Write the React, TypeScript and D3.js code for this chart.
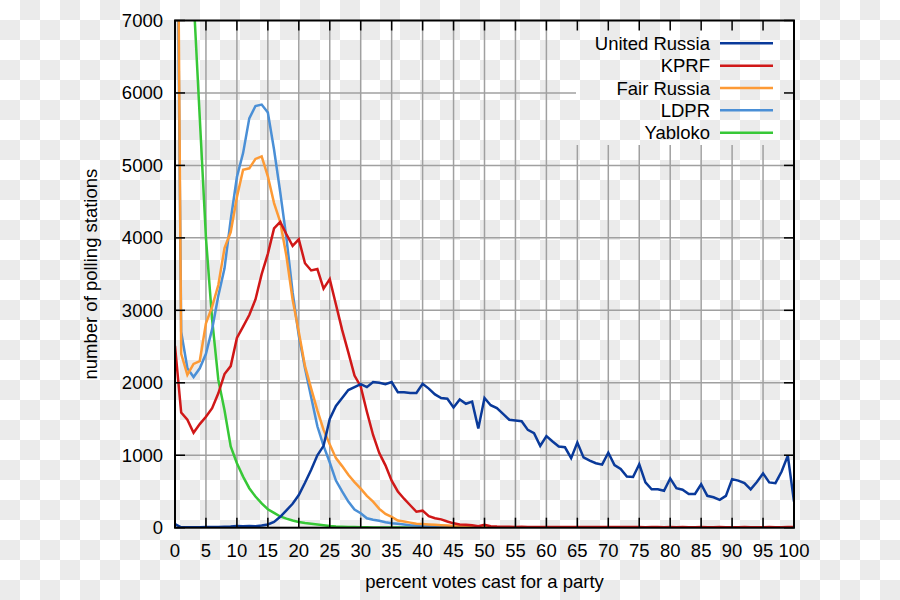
import React from "react";
import * as d3 from "d3";

const percents: number[] = d3.range(0, 101);

const unitedRussia: number[] = [
  50, 5, 5, 5, 5, 8, 10, 10, 12, 15,
  25, 20, 25, 20, 30, 45, 80, 150, 240, 330,
  450, 620, 800, 1000, 1130, 1500, 1680, 1790, 1900, 1940,
  1980, 1940, 2010, 2000, 1980, 2010, 1870, 1870, 1860, 1860,
  1985, 1920, 1840, 1790, 1780, 1660, 1770, 1710, 1740, 1370,
  1790, 1690, 1650, 1570, 1490, 1480, 1470, 1350, 1305, 1130,
  1265, 1190, 1120, 1110, 960, 1175, 970, 925, 890, 870,
  1035, 865, 810, 705, 700, 875, 625, 530, 530, 510,
  680, 545, 525, 465, 465, 600, 440, 420, 385, 440,
  670, 650, 615, 530, 630, 750, 625, 615, 775, 995,
  360,
];

const kprf: number[] = [
  2510, 1590, 1490, 1310, 1430, 1530, 1650, 1855, 2120, 2230,
  2620, 2775, 2935, 3150, 3500, 3780, 4130, 4220, 4050, 3890,
  3980, 3650, 3550, 3570, 3300, 3430, 3080, 2730, 2420, 2100,
  1950, 1600, 1280, 1030, 860, 650, 500, 400, 310, 220,
  235, 160, 130, 115, 85, 60, 45, 40, 35, 20,
  40, 20, 15, 12, 12, 11, 12, 10, 11, 10,
  10, 9, 10, 9, 9, 10, 9, 8, 9, 8,
  9, 8, 8, 9, 8, 8, 7, 8, 8, 7,
  8, 7, 8, 7, 7, 8, 7, 7, 8, 7,
  7, 7, 8, 7, 7, 7, 8, 7, 7, 8,
  10,
];

const fairRussia: number[] = [
  14000, 2400, 2110, 2260, 2300, 2820, 3050, 3350, 3860, 4080,
  4560, 4940, 4960, 5090, 5125, 4850, 4480, 4220, 3750, 3150,
  2700, 2230, 1920, 1620, 1350, 1150, 960, 850, 730, 630,
  540, 440, 360, 260, 190, 150, 100, 85, 70, 55,
  50, 45, 40, 35, 30, 25, 20, 15, 12, 10,
  8, 6, 5, 5, 4, 4, 3, 3, 3, 2,
  2, 2, 2, 2, 1, 1, 1, 1, 1, 1,
  1, 1, 1, 1, 1, 1, 0, 0, 0, 0,
  0, 0, 0, 0, 0, 0, 0, 0, 0, 0,
  0, 0, 0, 0, 0, 0, 0, 0, 0, 0,
  0,
];

const ldpr: number[] = [
  12000, 2700, 2200, 2080, 2200, 2400, 2740, 3200, 3580, 4250,
  4840, 5170, 5650, 5820, 5840, 5730, 5220, 4630, 4000, 3250,
  2650, 2200, 1800, 1400, 1130, 900, 650, 500, 360, 250,
  200, 130, 110, 95, 75, 60, 55, 45, 35, 30,
  25, 20, 15, 12, 10, 8, 6, 5, 4, 4,
  3, 3, 2, 2, 2, 2, 1, 1, 1, 1,
  1, 1, 1, 1, 1, 0, 0, 0, 0, 0,
  0, 0, 0, 0, 0, 0, 0, 0, 0, 0,
  0, 0, 0, 0, 0, 0, 0, 0, 0, 0,
  0, 0, 0, 0, 0, 0, 0, 0, 0, 0,
  0,
];

const yabloko: number[] = [
  25000, 16000, 10500, 7330, 5660, 4000, 2870, 2040, 1620, 1120,
  890, 705, 545, 430, 335, 255, 205, 155, 125, 100,
  80, 65, 55, 45, 35, 25, 18, 14, 10, 8,
  6, 5, 4, 3, 3, 2, 2, 2, 1, 1,
  1, 1, 1, 1, 1, 0, 0, 0, 0, 0,
  0, 0, 0, 0, 0, 0, 0, 0, 0, 0,
  0, 0, 0, 0, 0, 0, 0, 0, 0, 0,
  0, 0, 0, 0, 0, 0, 0, 0, 0, 0,
  0, 0, 0, 0, 0, 0, 0, 0, 0, 0,
  0, 0, 0, 0, 0, 0, 0, 0, 0, 0,
  0,
];

const seriesNames: string[] = ["United Russia", "KPRF", "Fair Russia", "LDPR", "Yabloko"];
const seriesColors: string[] = ["#0a3a9a", "#d01818", "#fd9a35", "#4a8fd6", "#37c837"];
const seriesValues: number[][] = [unitedRussia, kprf, fairRussia, ldpr, yabloko];

const xTicks: number[] = d3.range(0, 101, 5);
const yTicks: number[] = d3.range(0, 7001, 1000);

const xLabel = "percent votes cast for a party";
const yLabel = "number of polling stations";

const FONT = "'Liberation Sans', Arial, Helvetica, sans-serif";

export default function App() {
  const W = 900;
  const H = 600;
  const left = 175;
  const right = 794;
  const top = 20.5;
  const bottom = 527.7;

  const x = d3.scaleLinear().domain([0, 100]).range([left, right]);
  const y = d3.scaleLinear().domain([0, 7000]).range([bottom, top]);

  const line = d3
    .line<number>()
    .x((_, i) => x(percents[i]))
    .y((d) => y(d));

  // legend box (grid masked there)
  const legX0 = 576;
  const legY1 = 145;
  const legTextX = 710;
  const legLineX1 = 720;
  const legLineX2 = 773;
  const legY0 = 43.3;
  const legDy = 22.35;

  const tickLen = 10;
  const gridColor = "#a0a0a0";

  const drawOrder = [4, 3, 2, 1, 0];

  return (
    <svg
      width={W}
      height={H}
      viewBox={`0 0 ${W} ${H}`}
      style={{ position: "absolute", left: 0, top: 0, display: "block" }}
    >
      <defs>
        <pattern id="checker" patternUnits="userSpaceOnUse" width={40} height={40}>
          <rect x={0} y={0} width={40} height={40} fill="#ffffff" />
          <rect x={20} y={0} width={20} height={20} fill="#ebebeb" />
          <rect x={0} y={20} width={20} height={20} fill="#ebebeb" />
        </pattern>
        <clipPath id="plotClip">
          <rect x={left} y={top} width={right - left} height={bottom - top} />
        </clipPath>
      </defs>
      <rect x={0} y={0} width={W} height={H} fill="url(#checker)" />

      {/* grid */}
      <g stroke={gridColor} strokeWidth={1.5}>
        {yTicks
          .filter((t) => t > 0 && t < 7000)
          .map((t) => (
            <line
              key={"gy" + t}
              x1={left}
              x2={y(t) < legY1 ? legX0 : right}
              y1={y(t)}
              y2={y(t)}
            />
          ))}
        {xTicks
          .filter((t) => t > 0 && t < 100)
          .map((t) => (
            <line
              key={"gx" + t}
              x1={x(t)}
              x2={x(t)}
              y1={x(t) >= legX0 ? legY1 : top}
              y2={bottom}
            />
          ))}
      </g>

      {/* data */}
      <g clipPath="url(#plotClip)" fill="none" strokeWidth={2.5} strokeLinejoin="miter">
        {drawOrder.map((k) => (
          <path key={seriesNames[k]} d={line(seriesValues[k]) || ""} stroke={seriesColors[k]} />
        ))}
      </g>

      {/* ticks */}
      <g stroke="#000" strokeWidth={1.5}>
        {xTicks.map((t) => (
          <g key={"tx" + t}>
            <line x1={x(t)} x2={x(t)} y1={bottom} y2={bottom - tickLen} />
            <line x1={x(t)} x2={x(t)} y1={top} y2={top + tickLen} />
          </g>
        ))}
        {yTicks.map((t) => (
          <g key={"ty" + t}>
            <line x1={left} x2={left + tickLen} y1={y(t)} y2={y(t)} />
            <line x1={right} x2={right - tickLen} y1={y(t)} y2={y(t)} />
          </g>
        ))}
      </g>
      <rect
        x={left}
        y={top}
        width={right - left}
        height={bottom - top}
        fill="none"
        stroke="#000"
        strokeWidth={2}
      />

      {/* tick labels */}
      <g fontFamily={FONT} fontSize={18.5} fill="#000">
        {xTicks.map((t) => (
          <text key={"lx" + t} x={x(t)} y={557} textAnchor="middle">
            {t}
          </text>
        ))}
        {yTicks.map((t) => (
          <text key={"ly" + t} x={163} y={y(t) + 6.5} textAnchor="end">
            {t}
          </text>
        ))}
        <text x={(left + right) / 2} y={588} textAnchor="middle">
          {xLabel}
        </text>
        <text
          transform={`translate(97, ${(top + bottom) / 2}) rotate(-90)`}
          textAnchor="middle"
        >
          {yLabel}
        </text>
      </g>

      {/* legend */}
      <g fontFamily={FONT} fontSize={18.5} fill="#000">
        {seriesNames.map((name, i) => {
          const yy = legY0 + i * legDy;
          return (
            <g key={"leg" + name}>
              <text x={legTextX} y={yy + 6.5} textAnchor="end">
                {name}
              </text>
              <line
                x1={legLineX1}
                x2={legLineX2}
                y1={yy}
                y2={yy}
                stroke={seriesColors[i]}
                strokeWidth={2.5}
              />
            </g>
          );
        })}
      </g>
    </svg>
  );
}
